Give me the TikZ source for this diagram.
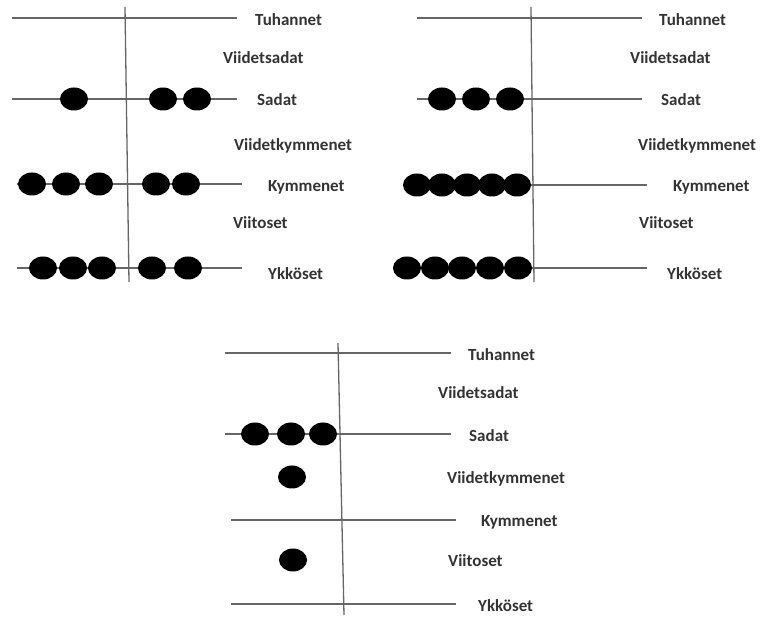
\documentclass[tikz,border=0pt]{standalone}
\usepackage{fontspec}
\setmainfont{Carlito}
\usetikzlibrary{shapes.geometric}

\begin{document}
\begin{tikzpicture} [x=1pt, y=-1pt,
    rod/.style = {draw=black!60, line width=1.3pt},
    bead/.style = {ellipse, fill=black, inner sep=0pt, minimum width=28pt, minimum height=23pt},
    lbl/.style = {anchor=base west, inner sep=0pt, font=\fontsize{17}{20}\selectfont\bfseries, text=black!80}]
        \useasboundingbox (0,0) rectangle (761,617);

        %Pisteet (vasen)
        \coordinate (a1top) at (125,7);   \coordinate (a1bot) at (129,282);
        \coordinate (a1t1) at (12,18);    \coordinate (a1t2) at (237,18);
        \coordinate (a1s1) at (12,99);    \coordinate (a1s2) at (237,99);
        \coordinate (a1k1) at (17,184);   \coordinate (a1k2) at (242,184);
        \coordinate (a1y1) at (17,268);   \coordinate (a1y2) at (242,268);

        %Pisteet (oikea)
        \coordinate (a2top) at (531,7);   \coordinate (a2bot) at (534,282);
        \coordinate (a2t1) at (417,18);   \coordinate (a2t2) at (642,18);
        \coordinate (a2s1) at (417,99);   \coordinate (a2s2) at (642,99);
        \coordinate (a2k1) at (430,185);  \coordinate (a2k2) at (647,185);
        \coordinate (a2y1) at (420,268);  \coordinate (a2y2) at (647,268);

        %Pisteet (alin)
        \coordinate (a3top) at (338,343); \coordinate (a3bot) at (344,615);
        \coordinate (a3t1) at (225,353);  \coordinate (a3t2) at (451,353);
        \coordinate (a3s1) at (225,434);  \coordinate (a3s2) at (451,434);
        \coordinate (a3k1) at (231,520);  \coordinate (a3k2) at (456,520);
        \coordinate (a3y1) at (231,604);  \coordinate (a3y2) at (456,604);

        %Langat
        \draw[rod] (a1top) -- (a1bot);
        \draw[rod] (a1t1) -- (a1t2);
        \draw[rod] (a1s1) -- (a1s2);
        \draw[rod] (a1k1) -- (a1k2);
        \draw[rod] (a1y1) -- (a1y2);

        \draw[rod] (a2top) -- (a2bot);
        \draw[rod] (a2t1) -- (a2t2);
        \draw[rod] (a2s1) -- (a2s2);
        \draw[rod] (a2k1) -- (a2k2);
        \draw[rod] (a2y1) -- (a2y2);

        \draw[rod] (a3top) -- (a3bot);
        \draw[rod] (a3t1) -- (a3t2);
        \draw[rod] (a3s1) -- (a3s2);
        \draw[rod] (a3k1) -- (a3k2);
        \draw[rod] (a3y1) -- (a3y2);

        %Helmet (vasen)
        \node[bead] (a1sa) at (74,99) {};
        \node[bead] (a1sb) at (163,99) {};
        \node[bead] (a1sc) at (197,99) {};
        \node[bead] (a1ka) at (32,184) {};
        \node[bead] (a1kb) at (66,184) {};
        \node[bead] (a1kc) at (99,184) {};
        \node[bead] (a1kd) at (156,184) {};
        \node[bead] (a1ke) at (186,184) {};
        \node[bead] (a1ya) at (43,268) {};
        \node[bead] (a1yb) at (73,268) {};
        \node[bead] (a1yc) at (102,268) {};
        \node[bead] (a1yd) at (152,268) {};
        \node[bead] (a1ye) at (188,268) {};

        %Helmet (oikea)
        \node[bead] (a2sa) at (442,99) {};
        \node[bead] (a2sb) at (476,99) {};
        \node[bead] (a2sc) at (510,99) {};
        \node[bead] (a2ka) at (417,185) {};
        \node[bead] (a2kb) at (442,185) {};
        \node[bead] (a2kc) at (467,185) {};
        \node[bead] (a2kd) at (492,185) {};
        \node[bead] (a2ke) at (517,185) {};
        \node[bead] (a2ya) at (407,268) {};
        \node[bead] (a2yb) at (435,268) {};
        \node[bead] (a2yc) at (462,268) {};
        \node[bead] (a2yd) at (490,268) {};
        \node[bead] (a2ye) at (518,268) {};

        %Helmet (alin)
        \node[bead] (a3sa) at (255,434) {};
        \node[bead] (a3sb) at (291,434) {};
        \node[bead] (a3sc) at (323,434) {};
        \node[bead] (a3va) at (292,477) {};
        \node[bead] (a3vb) at (293,560) {};

        %Tekstit (vasen)
        \node[lbl] (a1tuh) at (255,26) {Tuhannet};
        \node[lbl] (a1vsa) at (223,64) {Viidetsadat};
        \node[lbl] (a1sad) at (257,106) {Sadat};
        \node[lbl] (a1vky) at (234,151) {Viidetkymmenet};
        \node[lbl] (a1kym) at (268,192) {Kymmenet};
        \node[lbl] (a1vii) at (233,229) {Viitoset};
        \node[lbl] (a1ykk) at (268,280) {Ykköset};

        %Tekstit (oikea)
        \node[lbl] (a2tuh) at (659,26) {Tuhannet};
        \node[lbl] (a2vsa) at (630,64) {Viidetsadat};
        \node[lbl] (a2sad) at (661,106) {Sadat};
        \node[lbl] (a2vky) at (638,151) {Viidetkymmenet};
        \node[lbl] (a2kym) at (673,192) {Kymmenet};
        \node[lbl] (a2vii) at (639,229) {Viitoset};
        \node[lbl] (a2ykk) at (667,280) {Ykköset};

        %Tekstit (alin)
        \node[lbl] (a3tuh) at (468,361) {Tuhannet};
        \node[lbl] (a3vsa) at (438,399) {Viidetsadat};
        \node[lbl] (a3sad) at (469,442) {Sadat};
        \node[lbl] (a3vky) at (447,484) {Viidetkymmenet};
        \node[lbl] (a3kym) at (481,527) {Kymmenet};
        \node[lbl] (a3vii) at (448,566) {Viitoset};
        \node[lbl] (a3ykk) at (478,611) {Ykköset};

    \end{tikzpicture}
\end{document}
